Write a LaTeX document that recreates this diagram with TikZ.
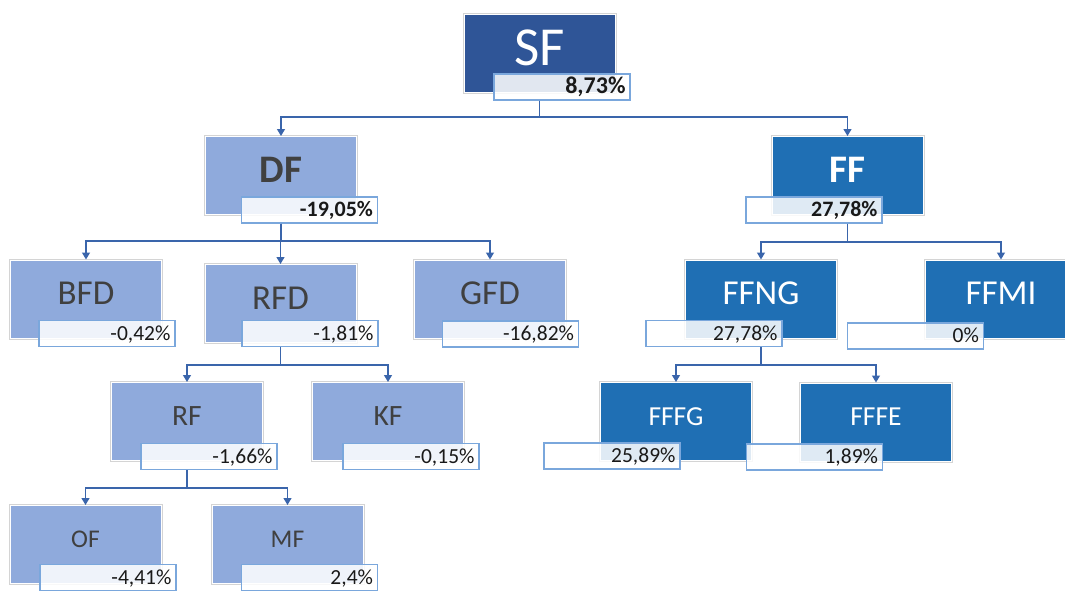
\documentclass[tikz,border=0pt]{standalone}
\usepackage{fontspec}
\setmainfont{Carlito}
\usetikzlibrary{arrows.meta}

\definecolor{topblue}{HTML}{2F5597}
\definecolor{midblue}{HTML}{1F6FB4}
\definecolor{lightblue}{HTML}{8FAADC}
\definecolor{valedge}{HTML}{7AA7DC}
\definecolor{linkblue}{HTML}{3A65AB}
\definecolor{labgray}{HTML}{404040}
\definecolor{rimgray}{HTML}{D4D4D4}

\tikzset{
  unitbox/.style={rectangle, minimum width=151pt, minimum height=78pt,
    inner sep=0pt, draw=white, line width=1pt,
    preaction={draw=rimgray, line width=3pt}},
  dkbox/.style={unitbox, fill=topblue},
  mdbox/.style={unitbox, fill=midblue},
  ltbox/.style={unitbox, fill=lightblue},
  dkboxtxt/.style={text=white},
  mdboxtxt/.style={text=white},
  ltboxtxt/.style={text=labgray},
  lab/.style={font=\fontsize{#1pt}{#1pt}\selectfont, anchor=base,
    inner sep=0pt, yshift={5pt-0.31*#1pt}},
  valbox/.style={rectangle, draw=valedge, line width=1.3pt,
    fill=white, fill opacity=0.86, text opacity=1,
    minimum width=136pt, minimum height=26pt, text width=127pt,
    align=right, inner xsep=4.5pt, inner ysep=0pt,
    text height=13.8pt, text depth=0pt, text=black!90,
    font=\fontsize{21.5pt}{21.5pt}\selectfont},
  conn/.style={draw=linkblue, line width=1.3pt,
    -{Triangle[width=8pt,length=7pt]}}
}

% #1 name, #2/#3 box centre, #4 box style, #5 label size,
% #6 label, #7/#8 value box centre, #9 value
\newcommand\orgunit[9]{%
  \node[#4] (#1) at (#2,#3) {};
  \node[lab=#5, #4txt] (#1t) at (#2,#3) {#6};
  \node[valbox] (#1v) at (#7,#8) {#9};
}

\begin{document}
\begin{tikzpicture}[x=1pt, y=-1pt]
  \useasboundingbox (0,0) rectangle (1065,590);
  \clip (0,0) rectangle (1065,590);

  \orgunit{SF}{539.5}{53}{dkbox}{55}{SF}{562}{87}{{\fontsize{24pt}{24pt}\selectfont\bfseries 8,73\%}}
  \orgunit{DF}{281}{175.5}{ltbox}{39}{\textbf{DF}}{309.5}{210}{{\fontsize{22pt}{22pt}\selectfont\bfseries -19,05\%}}
  \orgunit{FF}{847.5}{175.5}{mdbox}{39}{\textbf{FF}}{814}{210}{{\fontsize{22pt}{22pt}\selectfont\bfseries 27,78\%}}

  \orgunit{BFD}{86}{299}{ltbox}{35}{BFD}{107}{333.5}{-0,42\%}
  \orgunit{RFD}{280.5}{303.5}{ltbox}{35}{RFD}{310}{333.5}{-1,81\%}
  \orgunit{GFD}{490}{299}{ltbox}{35}{GFD}{510.5}{334}{-16,82\%}
  \orgunit{FFNG}{761}{299}{mdbox}{35}{FFNG}{714}{333.5}{27,78\%}
  \orgunit{FFMI}{1001}{299}{mdbox}{35}{FFMI}{915.5}{336}{0\%}

  \orgunit{RF}{187}{421.5}{ltbox}{29.5}{RF}{209}{456.5}{-1,66\%}
  \orgunit{KF}{388}{421.5}{ltbox}{29.5}{KF}{411}{456.5}{-0,15\%}
  \orgunit{FFFG}{676}{421.5}{mdbox}{27.5}{FFFG}{612}{456}{25,89\%}
  \orgunit{FFFE}{876}{422}{mdbox}{27.5}{FFFE}{814.5}{457}{1,89\%}

  \orgunit{OF}{85.5}{544.5}{ltbox}{25.5}{OF}{108}{577.5}{-4,41\%}
  \orgunit{MF}{287.5}{544.5}{ltbox}{25.5}{MF}{309.5}{577.5}{2,4\%}

  % branching buses below each parent
  \coordinate (bSF) at (539.5,117);
  \coordinate (bDF) at (281,241);
  \coordinate (bFF) at (847.5,242);
  \coordinate (bRFD) at (280.5,365);
  \coordinate (bFFNG) at (761,365);
  \coordinate (bRF) at (187,488);

  \draw[conn] (SF |- SFv.south) -- (bSF) -| (DF.north);
  \draw[conn] (SF |- SFv.south) -- (bSF) -| (FF.north);
  \draw[conn] (DF |- DFv.south) -- (bDF) -| (BFD.north);
  \draw[conn] (DF |- DFv.south) -- (bDF) -| (RFD.north);
  \draw[conn] (DF |- DFv.south) -- (bDF) -| (GFD.north);
  \draw[conn] (FF |- FFv.south) -- (bFF) -| (FFNG.north);
  \draw[conn] (FF |- FFv.south) -- (bFF) -| (FFMI.north);
  \draw[conn] (RFD |- RFDv.south) -- (bRFD) -| (RF.north);
  \draw[conn] (RFD |- RFDv.south) -- (bRFD) -| (KF.north);
  \draw[conn] (FFNG |- FFNGv.south) -- (bFFNG) -| (FFFG.north);
  \draw[conn] (FFNG |- FFNGv.south) -- (bFFNG) -| (FFFE.north);
  \draw[conn] (RF |- RFv.south) -- (bRF) -| (OF.north);
  \draw[conn] (RF |- RFv.south) -- (bRF) -| (MF.north);
\end{tikzpicture}
\end{document}
